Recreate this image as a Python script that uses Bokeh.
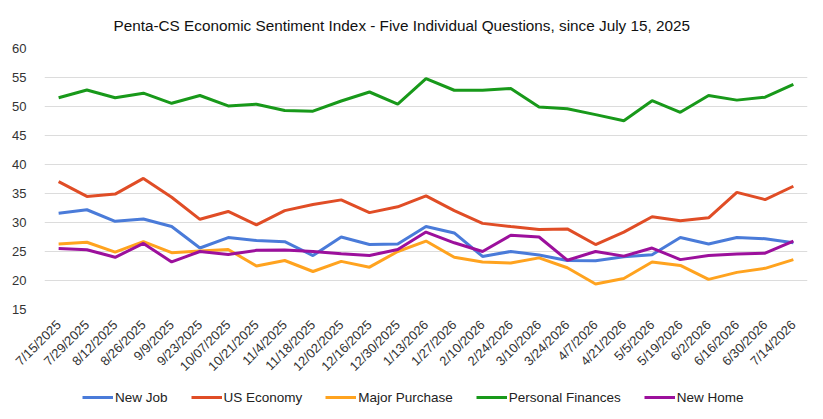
from bokeh.plotting import figure
from bokeh.models import FactorRange, Range1d, Legend, LegendItem, FixedTicker, Title
from bokeh.layouts import column
from bokeh.embed import file_html
from bokeh.resources import INLINE
import math

dates = ["7/15/2025", "7/29/2025", "8/12/2025", "8/26/2025", "9/9/2025", "9/23/2025",
         "10/07/2025", "10/21/2025", "11/4/2025", "11/18/2025", "12/02/2025", "12/16/2025",
         "12/30/2025", "1/13/2026", "1/27/2026", "2/10/2026", "2/24/2026", "3/10/2026",
         "3/24/2026", "4/7/2026", "4/21/2026", "5/5/2026", "5/19/2026", "6/2/2026",
         "6/16/2026", "6/30/2026", "7/14/2026"]

new_job = [31.6, 32.2, 30.2, 30.6, 29.3, 25.6, 27.4, 26.9, 26.7, 24.3, 27.5, 26.2, 26.3,
           29.3, 28.2, 24.15, 25.0, 24.4, 23.45, 23.4, 24.1, 24.45, 27.4, 26.3, 27.4, 27.2, 26.5]
us_economy = [37.06, 34.5, 34.9, 37.6, 34.35, 30.55, 31.9, 29.6, 32.05, 33.1, 33.9, 31.7, 32.7,
              34.6, 32.05, 29.85, 29.3, 28.8, 28.9, 26.2, 28.35, 31.0, 30.3, 30.8, 35.2, 33.95, 36.25]
major_purchase = [26.3, 26.6, 24.9, 26.7, 24.8, 25.1, 25.35, 22.5, 23.45, 21.55, 23.3, 22.3, 25.0,
                  26.8, 24.0, 23.2, 23.0, 23.9, 22.2, 19.4, 20.35, 23.2, 22.6, 20.2, 21.4, 22.1, 23.6]
personal_finances = [51.5, 52.85, 51.5, 52.3, 50.55, 51.9, 50.1, 50.4, 49.3, 49.2, 50.95, 52.5, 50.4,
                     54.8, 52.8, 52.8, 53.1, 49.9, 49.6, 48.6, 47.55, 51.0, 49.0, 51.9, 51.1, 51.6, 53.8]
new_home = [25.5, 25.3, 24.0, 26.4, 23.2, 25.0, 24.5, 25.2, 25.25, 25.0, 24.6, 24.3, 25.35,
            28.35, 26.5, 25.0, 27.8, 27.5, 23.5, 25.0, 24.2, 25.6, 23.6, 24.3, 24.55, 24.7, 26.8]

series_names = ["New Job", "US Economy", "Major Purchase", "Personal Finances", "New Home"]
series_values = [new_job, us_economy, major_purchase, personal_finances, new_home]
colors = ["#4a7bd9", "#e04d26", "#ffa31f", "#18991a", "#9c109c"]
y_ticks = [15, 20, 25, 30, 35, 40, 45, 50, 55, 60]

FONT = "Liberation Sans"
LEGEND_H = 37
MAIN_H = 419 - LEGEND_H
BORDER_L = 44
BORDER_R = 16

p = figure(width=823, height=MAIN_H, output_backend="svg", toolbar_location=None,
           x_range=FactorRange(*dates, range_padding=0), y_range=Range1d(15, 60),
           min_border_left=BORDER_L, min_border_right=BORDER_R, min_border_top=48,
           min_border_bottom=MAIN_H - 309)
p.outline_line_color = None
p.background_fill_color = "white"
p.border_fill_color = "white"

p.title = Title(text="Penta-CS Economic Sentiment Index - Five Individual Questions, since July 15, 2025",
                align="left", text_font=FONT, text_font_size="15.3px", text_font_style="normal",
                text_color="#111111", offset=69, standoff=29)

for name, vals, col in zip(series_names, series_values, colors):
    p.line(dates, vals, line_color=col, line_width=3)

p.xgrid.grid_line_color = None
p.ygrid.grid_line_color = "#dcdcdc"
p.ygrid.grid_line_width = 1
p.yaxis.ticker = FixedTicker(ticks=y_ticks)

p.yaxis.axis_line_color = None
p.yaxis.major_tick_line_color = None
p.yaxis.minor_tick_line_color = None
p.yaxis.major_label_text_font = FONT
p.yaxis.major_label_text_font_size = "13px"
p.yaxis.major_label_text_color = "#333333"
p.yaxis.major_label_standoff = 12

p.xaxis.axis_line_color = None
p.xaxis.major_tick_line_color = None
p.xaxis.major_label_orientation = math.pi / 4
p.xaxis.major_label_text_font = FONT
p.xaxis.major_label_text_font_size = "13px"
p.xaxis.major_label_text_color = "#333333"
p.xaxis.major_label_standoff = 7

# legend strip below the chart (same side borders as the main plot so frames align)
p2 = figure(width=823, height=LEGEND_H, output_backend="svg", toolbar_location=None,
            x_range=Range1d(0, 1), y_range=Range1d(0, 1),
            min_border_left=BORDER_L, min_border_right=BORDER_R, min_border_top=0, min_border_bottom=0)
p2.axis.visible = False
p2.grid.visible = False
p2.outline_line_color = None
p2.border_fill_color = "white"
p2.background_fill_color = "white"
items = []
for name, col in zip(series_names, colors):
    r = p2.line(x=[float("nan")], y=[float("nan")], line_color=col, line_width=3)
    items.append(LegendItem(label=name, renderers=[r]))

legend = Legend(items=items, orientation="horizontal", location=(38, 14),
                label_text_font=FONT, label_text_font_size="13.5px", label_text_color="#222222",
                glyph_width=31, glyph_height=16, label_height=16, label_standoff=2,
                spacing=23, padding=0, margin=0, border_line_color=None,
                background_fill_alpha=0)
p2.add_layout(legend, "center")

layout = column(p, p2, spacing=0)
open("out.html", "w").write(file_html(layout, INLINE))
